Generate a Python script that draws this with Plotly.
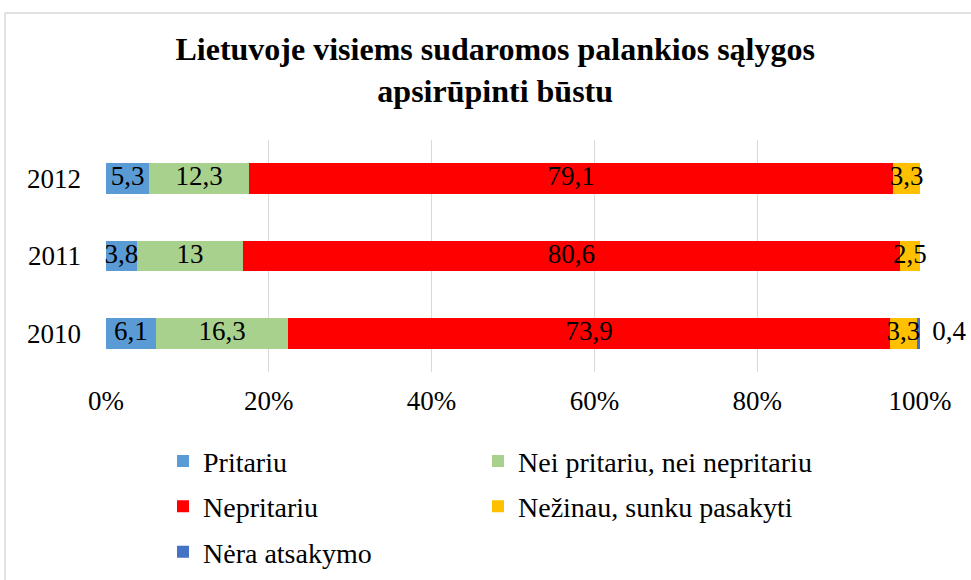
import plotly.graph_objects as go

years = ["2010", "2011", "2012"]
series_names = ["Pritariu", "Nei pritariu, nei nepritariu", "Nepritariu",
                "Nežinau, sunku pasakyti", "Nėra atsakymo"]
pritariu = [6.1, 3.8, 5.3]
nei = [16.3, 13, 12.3]
nepritariu = [73.9, 80.6, 79.1]
nezinau = [3.3, 2.5, 3.3]
nera = [0.4, None, None]
x_ticks = [0, 20, 40, 60, 80, 100]

colors = ["#5B9BD5", "#A9D18E", "#FF0000", "#FFC000", "#4472C4"]
series = [pritariu, nei, nepritariu, nezinau, nera]
legend_ids = ["legend", "legend2", "legend", "legend2", "legend"]

FONT = "Liberation Serif"
BLACK = "black"


def fmt(v):
    return ("%g" % v).replace(".", ",")


fig = go.Figure()
for i, (name, vals) in enumerate(zip(series_names, series)):
    fig.add_trace(go.Bar(
        y=years,
        x=[v if v is not None else 0 for v in vals],
        name=name,
        orientation="h",
        marker=dict(color=colors[i], line=dict(width=0)),
        legend=legend_ids[i],
        legendgroup=name,
        hoverinfo="skip",
    ))

# data labels: centres of each segment in the 100 % stacked scale
totals = [sum(s[j] for s in series if s[j] is not None) for j in range(len(years))]
lab_x, lab_y, lab_t = [], [], []
out_x, out_y, out_t = [], [], []
for j, yr in enumerate(years):
    cum = 0.0
    for k, s in enumerate(series):
        v = s[j]
        if v is None:
            continue
        start = cum / totals[j] * 100
        end = (cum + v) / totals[j] * 100
        if k == len(series) - 1:
            out_x.append(min(end, 100))
            out_y.append(yr)
            out_t.append(fmt(v))
        else:
            lab_x.append((start + end) / 2)
            lab_y.append(yr)
            lab_t.append(fmt(v))
        cum += v

fig.add_trace(go.Scatter(
    x=lab_x, y=lab_y, text=lab_t, mode="text",
    textposition="middle center",
    textfont=dict(family=FONT, size=27, color=BLACK),
    showlegend=False, hoverinfo="skip", cliponaxis=False,
))
fig.add_trace(go.Scatter(
    x=out_x, y=out_y, text=out_t, mode="markers+text",
    marker=dict(size=18, color="rgba(0,0,0,0)"),
    textposition="middle right",
    textfont=dict(family=FONT, size=27, color=BLACK),
    showlegend=False, hoverinfo="skip", cliponaxis=False,
))

fig.update_layout(
    width=971,
    height=580,
    barmode="stack",
    barnorm="percent",
    bargap=0.6,
    plot_bgcolor="white",
    paper_bgcolor="white",
    margin=dict(l=106, r=51, t=140, b=208, autoexpand=False),
    font=dict(family=FONT, size=27, color=BLACK),
    title=dict(
        text="<b>Lietuvoje visiems sudaromos palankios sąlygos<br>apsirūpinti būstu</b>",
        x=0.51, xanchor="center",
        y=0.896, yanchor="top", yref="container",
        font=dict(family=FONT, size=32, color=BLACK),
    ),
    xaxis=dict(
        range=[0, 100],
        tickvals=x_ticks,
        ticktext=[f"{t}%" for t in x_ticks],
        showgrid=True,
        gridcolor="#D9D9D9",
        gridwidth=1,
        zeroline=False,
        showline=False,
        ticks="",
        ticklabelstandoff=10,
        tickfont=dict(family=FONT, size=27, color=BLACK),
    ),
    yaxis=dict(
        type="category",
        categoryorder="array",
        categoryarray=years,
        showgrid=False,
        zeroline=False,
        showline=False,
        ticks="",
        ticklabelstandoff=24,
        tickfont=dict(family=FONT, size=27, color=BLACK),
    ),
    legend=dict(
        x=0.07, xanchor="left", y=-0.277, yanchor="top",
        orientation="v", traceorder="grouped", tracegroupgap=6,
        font=dict(family=FONT, size=28, color=BLACK),
        itemwidth=30,
    ),
    legend2=dict(
        x=0.457, xanchor="left", y=-0.277, yanchor="top",
        orientation="v", traceorder="grouped", tracegroupgap=6,
        font=dict(family=FONT, size=28, color=BLACK),
        itemwidth=30,
    ),
    shapes=[dict(
        type="rect", xref="paper", yref="paper",
        x0=-0.124, x1=1.2, y0=-1.2, y1=1.547,
        line=dict(color="#D9D9D9", width=1.5),
        fillcolor="rgba(0,0,0,0)", layer="below",
    )],
    showlegend=True,
)

fig.write_html(
    "out.html",
    config={"displayModeBar": False},
    post_script="document.body.style.margin='0';",
)
